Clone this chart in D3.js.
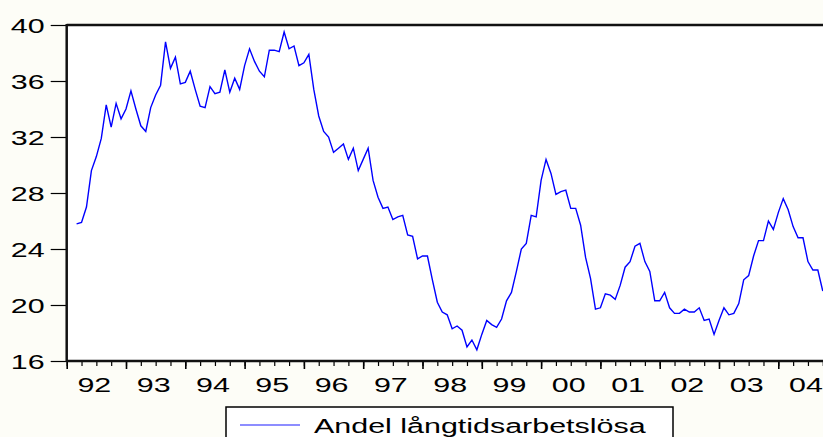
<!DOCTYPE html>
<html>
<head>
<meta charset="utf-8">
<script src="https://cdn.jsdelivr.net/npm/d3@7"></script>
<style>
  html, body { margin: 0; padding: 0; background: #fdfdf7; }
  svg { display: block; }
  text { font-family: "Liberation Sans", Arial, sans-serif; fill: #000; }
</style>
</head>
<body>
<svg id="chart" width="823" height="437"></svg>
<script>
// ---- data ----
const seriesName = "Andel långtidsarbetslösa";
const startYear = 1992;
const startMonth = 3; // first observation: 1992M03
const values = [
  25.8, 25.9, 27.0, 29.6, 30.6, 31.9, 34.3, 32.7, 34.4, 33.3, 34.0, 35.3,
  34.0, 32.8, 32.4, 34.1, 35.0, 35.7, 38.8, 36.9, 37.7, 35.8, 35.9, 36.7,
  35.4, 34.2, 34.1, 35.6, 35.1, 35.2, 36.8, 35.2, 36.2, 35.4, 37.1, 38.3,
  37.4, 36.7, 36.3, 38.2, 38.2, 38.1, 39.5, 38.3, 38.5, 37.1, 37.3, 37.9,
  35.4, 33.5, 32.4, 32.0, 30.9, 31.2, 31.5, 30.4, 31.2, 29.6, 30.4, 31.2,
  28.9, 27.7, 26.9, 27.0, 26.1, 26.3, 26.4, 25.0, 24.9, 23.3, 23.5, 23.5,
  21.8, 20.2, 19.5, 19.3, 18.3, 18.5, 18.2, 17.0, 17.5, 16.8, 17.9, 18.9,
  18.6, 18.4, 19.0, 20.3, 20.9, 22.4, 24.0, 24.4, 26.4, 26.3, 28.9, 30.4,
  29.4, 27.9, 28.1, 28.2, 26.9, 26.9, 25.7, 23.4, 21.9, 19.7, 19.8, 20.8,
  20.7, 20.4, 21.4, 22.7, 23.1, 24.2, 24.4, 23.1, 22.4, 20.3, 20.3, 20.9,
  19.8, 19.4, 19.4, 19.7, 19.5, 19.5, 19.8, 18.9, 19.0, 17.9, 18.9, 19.8,
  19.3, 19.4, 20.1, 21.8, 22.1, 23.5, 24.6, 24.6, 26.0, 25.4, 26.6, 27.6,
  26.8, 25.6, 24.8, 24.8, 23.1, 22.5, 22.5, 21.0
];
const yTicks = [16, 20, 24, 28, 32, 36, 40];
const yearLabels = ["92","93","94","95","96","97","98","99","00","01","02","03","04"];

// ---- layout ----
const svg = d3.select("#chart");
const W = 823, H = 437;
const plotLeft = 66.7, plotTop = 25, plotBottom = 361;
const yearPx = 59.3;

const x = d3.scaleLinear().domain([1992, 2005]).range([plotLeft, plotLeft + 13 * yearPx]);
const y = d3.scaleLinear().domain([16, 40]).range([plotBottom, plotTop]);

const data = values.map((v, i) => ({ t: startYear + (startMonth - 1 + i) / 12, v }));

// plot background
svg.append("rect").attr("x", plotLeft).attr("y", plotTop).attr("width", W - plotLeft).attr("height", plotBottom - plotTop).attr("fill", "#ffffff");

// clip
svg.append("clipPath").attr("id", "clip").append("rect")
  .attr("x", plotLeft).attr("y", plotTop - 5).attr("width", W - plotLeft).attr("height", plotBottom - plotTop + 10);

// series line
svg.append("path")
  .datum(data)
  .attr("clip-path", "url(#clip)")
  .attr("fill", "none")
  .attr("stroke", "#0000ff")
  .attr("stroke-width", 1.4)
  .attr("stroke-linejoin", "miter")
  .attr("d", d3.line().x(d => x(d.t)).y(d => y(d.v)));

// y axis
const yAxis = d3.axisLeft(y).tickValues(yTicks).tickSize(12).tickPadding(6).tickFormat(d3.format("d"));
const gy = svg.append("g").attr("transform", `translate(${plotLeft - 4},0)`).call(yAxis);
gy.select(".domain").remove();
gy.selectAll(".tick line").attr("stroke", "#000").attr("stroke-width", 1.2).attr("x1", 4);
gy.selectAll(".tick text")
  .attr("font-size", 21)
  .attr("text-anchor", "end")
  .attr("transform", "translate(-18,0) scale(1.45,1) translate(18,0)")
  .attr("dy", "0.36em");

// x axis: quarterly minor ticks, yearly major ticks
const minorTicks = d3.range(0, 52).map(q => 1992 + q / 4);
const majorTicks = d3.range(0, 13).map(k => 1992 + k);
const xMinor = d3.axisBottom(x).tickValues(minorTicks).tickSize(5).tickFormat("");
const gxm = svg.append("g").attr("transform", `translate(0,${plotBottom})`).call(xMinor);
gxm.select(".domain").remove();
gxm.selectAll(".tick line").attr("stroke", "#000").attr("stroke-width", 1.2);
const xMajor = d3.axisBottom(x).tickValues(majorTicks).tickSize(8).tickFormat("");
const gxM = svg.append("g").attr("transform", `translate(0,${plotBottom})`).call(xMajor);
gxM.select(".domain").remove();
gxM.selectAll(".tick line").attr("stroke", "#000").attr("stroke-width", 1.6);

// year labels centered between year ticks
svg.append("g").selectAll("text").data(yearLabels).join("text")
  .attr("transform", (d, i) => `translate(${x(1992 + i + 0.5) - 2},392) scale(1.45,1)`)
  .attr("text-anchor", "middle")
  .attr("font-size", 21)
  .text(d => d);

// frame lines
svg.append("line").attr("x1", plotLeft).attr("x2", W).attr("y1", plotTop).attr("y2", plotTop)
  .attr("stroke", "#111").attr("stroke-width", 2.5);
svg.append("line").attr("x1", plotLeft).attr("x2", plotLeft).attr("y1", plotTop - 1).attr("y2", plotBottom + 1)
  .attr("stroke", "#111").attr("stroke-width", 2.5);
svg.append("line").attr("x1", plotLeft).attr("x2", W).attr("y1", plotBottom).attr("y2", plotBottom)
  .attr("stroke", "#111").attr("stroke-width", 2.5);

// legend
const lg = svg.append("g");
lg.append("rect").attr("x", 226).attr("y", 407).attr("width", 447).attr("height", 45)
  .attr("fill", "#ffffff").attr("stroke", "#000").attr("stroke-width", 1.5);
lg.append("line").attr("x1", 240).attr("x2", 300).attr("y1", 425).attr("y2", 425)
  .attr("stroke", "#0000ff").attr("stroke-width", 1.3).attr("stroke-opacity", 0.6);
lg.append("text")
  .attr("transform", "translate(314,433) scale(1.45,1)")
  .attr("font-size", 21)
  .text(seriesName);
</script>
</body>
</html>
